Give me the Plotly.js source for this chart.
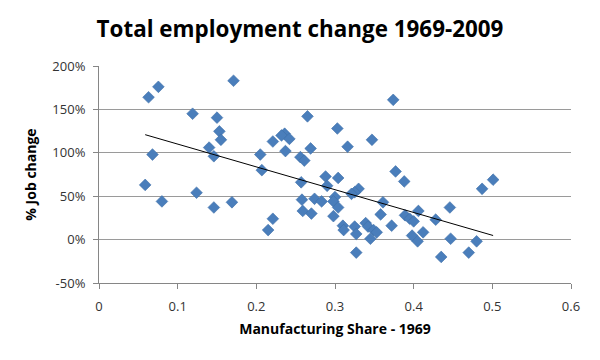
<!DOCTYPE html>
<html><head><meta charset="utf-8">
<script src="https://cdn.plot.ly/plotly-3.0.1.min.js"></script>
<style>html,body{margin:0;padding:0;background:#fff}#chart{width:600px;height:360px}</style>
</head><body><div id="chart"></div>
<script>
// Manufacturing share 1969 (x) and % job change 1969-2009 (y)
const mfgShare = [0.063,0.0755,0.068,0.119,0.150,0.171,0.153,0.155,0.140,0.146,
  0.0587,0.080,0.124,0.146,0.169,0.374,0.265,0.303,0.236,0.232,
  0.242,0.221,0.347,0.316,0.269,0.237,0.205,0.256,0.261,0.377,
  0.207,0.288,0.304,0.257,0.290,0.330,0.325,0.321,0.361,0.300,
  0.298,0.258,0.274,0.283,0.304,0.358,0.259,0.270,0.298,0.221,
  0.215,0.310,0.311,0.325,0.327,0.339,0.342,0.349,0.353,0.345,
  0.372,0.327,0.388,0.389,0.395,0.400,0.406,0.412,0.398,0.405,
  0.428,0.446,0.447,0.435,0.470,0.480,0.487,0.501];
const jobChange = [164,176,98,145,140.5,183,124.7,115,106,96,
  63,44,54,37,43,161,142,128,122,120,
  116,113,115,107,105,102,98,95,91,78.5,
  80,72.7,71,66,62,58.5,54.6,52.7,43,49,
  44,46,47,44,37,29,33,30,27,24,
  11,16,11,15,6.5,19,15,11,8.4,1,
  16,-15,67,28,24,21,33,8.4,4.6,-2,
  23,37,1,-20,-15,-2,58.5,69];
const xTicks = [0,0.1,0.2,0.3,0.4,0.5,0.6];
const yTicks = [-50,0,50,100,150,200];

// linear trendline from least squares on the data
const n = mfgShare.length;
const mx = mfgShare.reduce((a,b)=>a+b,0)/n;
const my = jobChange.reduce((a,b)=>a+b,0)/n;
let sxy=0, sxx=0;
for (let i=0;i<n;i++){ sxy+=(mfgShare[i]-mx)*(jobChange[i]-my); sxx+=(mfgShare[i]-mx)**2; }
const slope = sxy/sxx, icpt = my - slope*mx;
const xMin = Math.min(...mfgShare), xMax = Math.max(...mfgShare);
const trendX = [xMin, xMax];
const trendY = trendX.map(v => icpt + slope*v);

const font = "Open Sans, Noto Sans, sans-serif";
Plotly.newPlot('chart', [
  {x: mfgShare, y: jobChange, type:'scatter', mode:'markers',
   marker:{symbol:'diamond', size:9, color:'#4A7EBB', line:{width:0.6, color:'#3E6FA8'}},
   hoverinfo:'x+y'},
  {x: trendX, y: trendY, type:'scatter', mode:'lines',
   line:{color:'#000', width:1}, hoverinfo:'skip'}
], {
  width:600, height:360,
  margin:{l:99, r:29, t:66, b:77},
  paper_bgcolor:'#fff', plot_bgcolor:'#fff',
  showlegend:false,
  title:{text:'<b>Total employment change 1969-2009</b>', x:0.5, xanchor:'center',
         y:0.92, yanchor:'middle', font:{family:font, size:22.4, color:'#000'}},
  xaxis:{range:[0,0.6], tickvals:xTicks, ticktext:xTicks.map(String),
    showgrid:false, zeroline:false, showline:true, linecolor:'#868686', linewidth:1,
    ticks:'outside', ticklen:5, tickcolor:'#868686', ticklabelstandoff:6,
    tickfont:{family:font, size:13, color:'#333'},
    title:{text:'<b>Manufacturing Share - 1969</b>', standoff:10, font:{family:font, size:14, color:'#000'}}},
  yaxis:{range:[-50,200], tickvals:yTicks, ticktext:yTicks.map(v=>v+'%'),
    showgrid:true, gridcolor:'#9a9a9a', gridwidth:1, zeroline:false,
    showline:true, linecolor:'#868686', linewidth:1,
    ticks:'outside', ticklen:5, tickcolor:'#868686', ticklabelstandoff:5,
    tickfont:{family:font, size:13, color:'#333'},
    title:{text:'<b>% Job change</b>', standoff:12, font:{family:font, size:14, color:'#000'}}}
}, {displayModeBar:false, staticPlot:true});
</script>
</body></html>
